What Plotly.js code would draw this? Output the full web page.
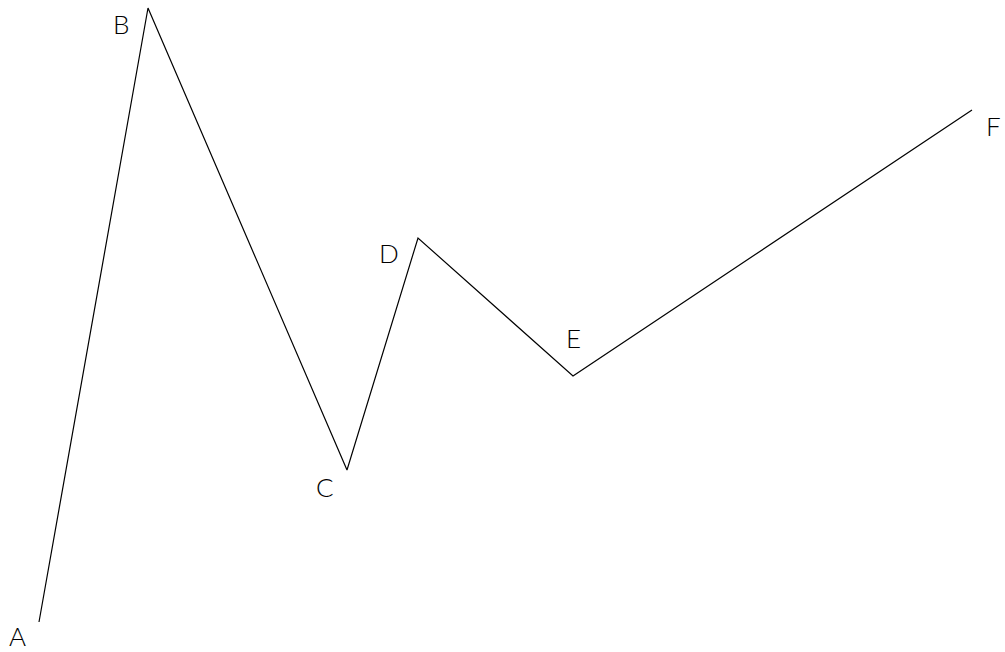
<!DOCTYPE html>
<html>
<head>
<meta charset="utf-8">
<script src="https://cdn.plot.ly/plotly-3.0.1.min.js"></script>
<style>
  html, body { margin: 0; padding: 0; background: #fff; }
  #plot { width: 1005px; height: 652px; }
</style>
</head>
<body>
<div id="plot"></div>
<script>
const labels = ["A", "B", "C", "D", "E", "F"];
const xs = [39, 148, 347, 418, 573, 972];
const ys = [30, 644, 182, 414, 276, 542];

// where each letter sits relative to its point (px)
const labelShift = {
  A: [-22, -14], B: [-27, -16], C: [-22, -17],
  D: [-29, -15], E: [0, 38], F: [21, -16]
};

const trace = {
  x: xs,
  y: ys,
  mode: "lines",
  line: { color: "#000", width: 1.2 },
  hoverinfo: "skip"
};

const notes = labels.map((t, i) => ({
  x: xs[i],
  y: ys[i],
  text: t,
  showarrow: false,
  xshift: labelShift[t][0],
  yshift: labelShift[t][1],
  font: { family: "Lato, 'Noto Sans', sans-serif", size: 26, color: "#000", weight: 300 }
}));

Plotly.newPlot("plot", [trace], {
  width: 1005,
  height: 652,
  margin: { l: 0, r: 0, t: 0, b: 0 },
  paper_bgcolor: "#fff",
  plot_bgcolor: "#fff",
  showlegend: false,
  xaxis: { range: [0, 1005], visible: false, fixedrange: true },
  yaxis: { range: [0, 652], visible: false, fixedrange: true },
  annotations: notes
}, { staticPlot: true });
</script>
</body>
</html>
